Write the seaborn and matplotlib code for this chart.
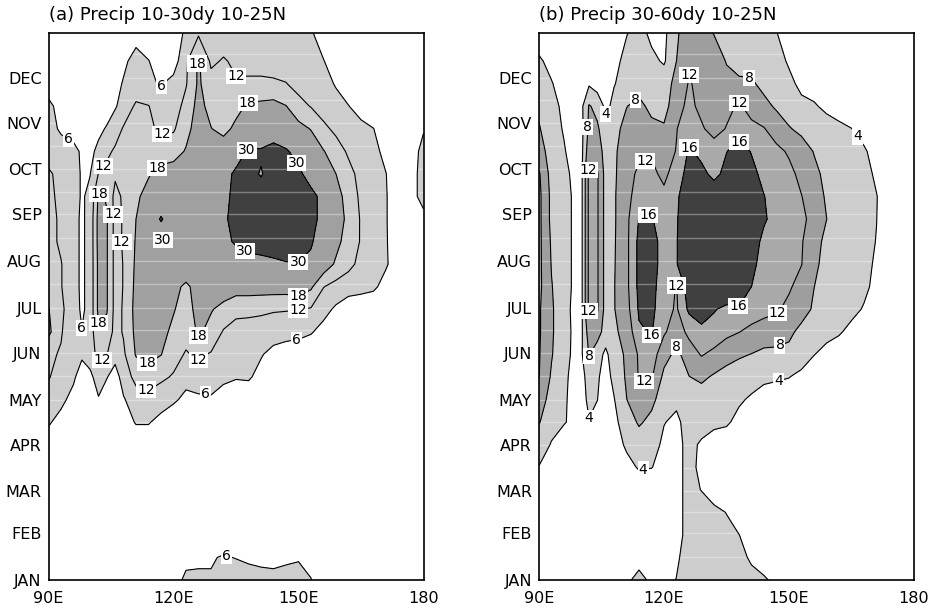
import numpy as np
import matplotlib
matplotlib.use("Agg")
import matplotlib.pyplot as plt
import seaborn as sns

# ---------------- data ----------------
lons = [90, 93, 96, 98, 100, 102, 104, 106, 108, 111, 114, 117, 120, 123, 126, 129,
        132, 135, 138, 141, 144, 147, 150, 153, 156, 159, 162, 165, 168, 171, 174, 177, 180]
days = [1, 16, 31, 46, 61, 76, 91, 106, 121, 136, 151, 166, 181, 196, 211, 226,
        241, 256, 271, 286, 301, 316, 331, 346, 365]

month_days = [1, 32, 60, 91, 121, 152, 182, 213, 244, 274, 305, 335]
month_labels = ["JAN", "FEB", "MAR", "APR", "MAY", "JUN", "JUL", "AUG", "SEP", "OCT", "NOV", "DEC"]
lon_ticks = [90, 120, 150, 180]
lon_labels = ["90E", "120E", "150E", "180"]

# (a) 10-30 day precip variance, rows = days (bottom -> top), cols = lons
precip_a = [
    [2,2,2,2,2,2,2,2,2,2,2,2,3,7.5,7,6.5,9,9,8.5,8,7.5,8,9,6.2,2.5,2,2,2,2,2,2,2,2],            # 1
    [2,2,2,2,2,2,2,2,2,2,2,2,2,4,5,5.5,6.5,5.8,5,4.5,4.5,5,5.3,4,2,2,2,2,2,2,2,2,2],           # 16
    [2,2,2,2,2,2,2,2,2,2,2,2,2,2,2,2,2,2,2,2,2,2,2,2,2,2,2,2,2,2,2,2,2],                       # 31
    [2,2,2,2,2,2,2,2,2,2,2,2,2,2,2,2,2,2,2,2,2,2,2,2,2,2,2,2,2,2,2,2,2],                       # 46
    [2,2,2,2,2,2,2,2,2,2,2,2,2,2,2,2,2,2,2,2,2,2,2,2,2,2,2,2,2,2,2,2,2],                       # 61
    [2,2,2,2,2,2,2,2,2,2,2,2,2,2,2,2,2,2,2,2,2,2,2,2,2,2,2,2,2,2,2,2,2],                       # 76
    [3,2.5,2,2,2,2,2,2,2,2,2,2,2,2,2,2,2,2,2,2,2,2,2,2,2,2,2,2,2,2,2,2,2],                     # 91
    [6.7,4,2,2,2,2,2,2,3,6.5,6.5,4,2,2,2,2,2,2,2,2,2,2,2,2,2,2,2,2,2,2,2,2,2],                 # 106
    [9,7.5,4,2.5,3,5.5,3,3.5,5.5,9,10,9,7,4.5,5,5.5,4,2,2,2,2,2,2,2,2,2,2,2,2,2,2,2,2],        # 121
    [12.5,9,7,3,4.5,9,6.3,3.5,8.5,14,15,13,11.5,8,9,8,7,6.5,6.8,4,2,2,2,2,2,2,2,2,2,2,2,2,2],  # 136
    [13,11.5,8,7,9,14,12.2,8,11,18.5,20,18.2,14,11.5,13,11.5,9,8,7.5,6.5,4,2,2,2,2,2,2,2,2,2,2,2,2],   # 151
    [19.5,12.5,8,6.2,9,17,16,10,12.5,19.5,21,20,16.5,14,19,16,11.5,10,9.5,9.5,9,9,8,6.5,4,2,2,2,2,2,2,2,2],  # 166
    [18.3,13,9,5,8,19.5,18.5,10,12.5,20,22,21,18.5,15,20.5,18.5,16,13.5,13.5,13,12.5,12.3,12.2,11.5,8,5,2,2,2,2,2,2,2],  # 181
    [14.5,12.3,8,5,8,19.5,18.5,10,12.2,19.5,22,23,21,16,22,22,22,21,21,21,21,21,22,19,12.2,10,9,8,7,4,2,2,2],  # 196
    [14.5,12.3,8,5,8,19.5,18.5,10,12.2,19,23,24,25,26,27,27,28,26,27,28,28.5,29.5,29.7,28,22,17,13.5,10.5,8.5,6.6,3,2,2],  # 211
    [14,11,8,5,8,20,18.5,10,12.6,18.5,23,22,23,25,26,27,28,31,33,33,34,34,33,31,25,20,15,11.6,9,6.4,3,2.5,3],  # 226
    [14,11,8,5,8,20,18.5,10,12.5,18,23,31,24,25,26,27,29,32,34,34,35,35,34,33,27,22,16,11.5,9,6.3,3,2.5,4],    # 241
    [13.5,10.5,8,5.5,7,19,17.5,10,13,17,20,22,23,24,25,26,28,32,33,33,34,34,32,32,28,21,15,11,8.5,6.3,3,3.5,8.5],  # 256
    [13,10,8,5.5,5.9,12.2,14,13,14,15,17.5,20,21,23,24,25,27,31.5,32,29.5,33,33,31.5,27,22,18,14,10,8,6.1,3,3.5,8.5],  # 271
    [9,9,8,5,4,8,10.5,13,14,15,16,15,15.5,18.5,23,21,22,26,31,31,33,31,27,22,18.3,15,11,9,7.5,4.5,2,3,8],       # 286
    [8.5,5,3,4,3,4,6.8,9,12.6,14,13,11,11.3,16,21,18.2,16,19.5,22,23,25,23,20,17.7,13.5,10.5,9,8,6.1,3,2,2,5.5],  # 301
    [8,3,2,2,2,2,2,5.5,8,13,12.2,9,9,14,20,16,15,16,19,19.5,20,18.2,14,11.7,9,8,6.2,3,2,2,2,2,2],             # 316
    [2,2,2,2,2,2,2,3,6.8,8,7,5.5,8,11.5,19,14,14,12.5,13,13,13,12.2,10,9,8,5.5,2,2,2,2,2,2,2],                # 331
    [2,2,2,2,2,2,2,2,4,9.6,6.2,3,3,11,19,11,12.5,11,10,10,9,9,9,8,6.3,2,2,2,2,2,2,2,2],                       # 346
    [2,2,2,2,2,2,2,2,2,2,2,2,2,7.3,11,9,9,9,8,8,8,8,7,6.8,2,2,2,2,2,2,2,2,2],                                 # 365
]

# (b) 30-60 day precip variance
precip_b = [
    [2,2,2,2,2,2,2,2,2,3,5.6,3,2.5,4.1,6,7,7,6.5,6,5,4.5,3,2,2,2,2,2,2,2,2,2,2,2],             # 1
    [2,2,2,2,2,2,2,2,2,2,2,2,2.5,3.5,5.5,6,6.5,6,5,3.5,2,2,2,2,2,2,2,2,2,2,2,2,2],             # 16
    [2,2,2,2,2,2,2,2,2,2,2,2,2,3,5,6,6,5,4.05,2.5,2,2,2,2,2,2,2,2,2,2,2,2,2],                  # 31
    [2,2,2,2,2,2,2,2,2,2,2,2,2,3,5,5.5,5,3.9,2,2,2,2,2,2,2,2,2,2,2,2,2,2,2],                   # 46
    [2,2,2,2,2,2,2,2,2,2,2,2,2,3,5,3.9,2,2,2,2,2,2,2,2,2,2,2,2,2,2,2,2,2],                     # 61
    [3.9,2.5,2,2,2,2,2,2,2,3,4.3,4.1,3,3,5,3.2,2,2,2,2,2,2,2,2,2,2,2,2,2,2,2,2,2],             # 76
    [5.5,3.8,2.5,2.5,2.5,2.5,2.5,2.5,2.5,4.5,6,5,3.5,3,5,3.5,2,2,2,2,2,2,2,2,2,2,2,2,2,2,2,2,2],  # 91
    [8.3,5,4.2,3.5,3,3.9,3,2,3,6,8.5,7,4.1,3.5,5,5.5,5,4.5,3,2,2,2,2,2,2,2,2,2,2,2,2,2,2],    # 106
    [10,6.5,4.3,3.5,3,4.5,4.05,2.5,3.8,7.9,11,9,6,4.5,5.5,6,5.5,5,4.5,3.5,2,2,2,2,2,2,2,2,2,2,2,2,2],  # 121
    [12.1,7.5,4.5,3.5,3,5,4.5,2.5,5,8.5,12.3,12.5,7,6,7.9,8.8,7.5,6.5,6,5.5,5,4.5,4.1,3,2,2,2,2,2,2,2,2,2],  # 136
    [12.3,8.3,5,3.7,3,8.2,6,3,6.5,8.5,12.5,14,9.5,7,10,12.3,11,9.5,8.5,7.9,7,7,7,6,4.1,3,2,2,2,2,2,2,2],    # 151
    [12.5,8.5,5.5,3.7,2.5,10,9.5,6.5,7.5,9,15.5,16.3,12.5,10,13,15,14.5,13,12.1,11,10.5,10,8.8,7,6,5,4.4,3,2,2,2,2,2],  # 166
    [12.5,8.5,5.5,3.5,2,13,12.5,6.5,7.8,10.5,16.5,17,13.5,11.5,16.8,18,16.3,15,15.5,14,13,12.5,11,9.5,7.5,6,5.5,5,3.7,2,2,2,2],  # 181
    [13,8.2,5.5,3.8,2,13,12.5,6.5,7.8,11,17,17.2,14,11.8,18.5,20,20,20,19,16,13.5,13,12.5,10.5,8.05,6.5,6,5.5,4.8,3,2,2,2],  # 196
    [13,7.8,5.5,3.8,2,13,12.5,6.5,7.7,11,17,17.5,14.5,15.8,19,20.5,20.5,20.5,19.5,17,14.5,13.5,13,12.1,9,6.5,6,5.5,5,3.5,2,2,2],  # 211
    [13,7.5,5.5,3.8,2,13,12.5,6.5,7.6,11,17,17.5,14.5,15.8,19,20.5,20.5,20.5,20,18,15,14,13.5,12.3,9.5,7,6,5.5,5,3.9,2,2,2],  # 226
    [13,7,5.5,3.8,2,13,12.5,6.5,7.5,11,16.2,16.5,13,15.7,18.5,20,20,20,20,19,16.5,14.5,14,13,10.5,8.05,6.5,6,5,4.05,2,2,2],  # 241
    [13,7,5.5,3.8,2,13,12.5,6.5,7.5,11,13.5,14,13,15.5,18,19,18.5,19,19,18,16.1,14.5,13.5,12.1,10,7.5,6.5,6,5,4.1,2.5,2,2],  # 256
    [12.5,6.5,5,3.5,2,13,12.5,6.5,7.5,10,13,13,11,14,17.5,17,15,17,18,17,15,14,13,11,9,7,6,5.5,5,3.5,2,2,2],  # 271
    [9,7,4.5,2,2,10.5,10,6.5,7.5,9.5,11,11.5,11,12.1,16.5,15,14,15.9,17.5,15.8,14,13,11.5,10,7.8,6.5,6,5.5,4.5,2.5,2,2,2],  # 286
    [8.2,6.5,3.5,2,2,9,8.5,6,7,9,10,9,8.5,11.9,13.5,12.5,10.5,12.2,14,13,12.2,10,8.3,7,6.5,6,5,4.05,2.5,2,2,2,2],  # 301
    [7.5,5.5,3,2,2.5,8.3,7,3,5,7.9,9,7,6.5,10.5,13,11,10,11,12.5,10.5,9,7.5,6,5,4.5,3,2,2,2,2,2,2,2],       # 316
    [6,4.2,2.5,2,2,3.5,2,2,3.8,5.5,6.5,6,6.5,9,12.3,11,10,9,8.5,8.5,7,6,5,3,2,2,2,2,2,2,2,2,2],              # 331
    [4.5,3,2,2,2,2,2,2,3,5,6,5,3.5,8,11.5,11,10,7.8,7,6.5,6,5.5,3.5,2,2,2,2,2,2,2,2,2,2],                    # 346
    [2,2,2,2,2,2,2,2,2,3.8,5.5,3,3,7.5,10,9.5,7.8,6.5,6,5.5,5,4.1,2,2,2,2,2,2,2,2,2,2,2],                    # 365
]

levels_a = [6, 12, 18, 30]
fill_levels_a = [6, 18, 30, 1000]
colors_a = ["#cdcdcd", "#a0a0a0", "#404040"]
levels_b = [4, 8, 12, 16]
fill_levels_b = [4, 8, 12, 16, 1000]
colors_b = ["#cdcdcd", "#9e9e9e", "#a9a9a9", "#404040"]

titles = ["(a) Precip 10-30dy 10-25N", "(b) Precip 30-60dy 10-25N"]

# label anchor points (lon, day) for each contour level (snapped onto the line)
labels_a = {
    6: [(117.5, 328.5), (97.6, 306.5), (97.3, 165.7), (127.6, 121.9), (150.1, 151.8), (132.8, 18.3)],
    12: [(131.0, 327.0), (117.5, 293.3), (102.4, 277.9), (104.0, 244.0), (108.0, 226.0),
         (149.9, 178.3), (102.4, 148.5), (125.2, 140.5), (112.7, 122.6)],
    18: [(124.7, 344.4), (137.6, 318.5), (115.1, 278.0), (102.4, 258.7), (149.9, 188.3),
         (102.8, 168.4), (125.2, 157.1), (112.7, 140.5)],
    30: [(137.6, 286.6), (147.5, 274.7), (137.6, 222.2), (149.9, 208.2)],
}
# labels placed as they stand (next to a tiny closed contour)
free_labels_a = [(30, 117.5, 226.8)]

labels_b = {
    4: [(105.4, 307.9), (165.1, 293.3), (147.8, 130.5), (102.7, 103.9), (115.0, 74.1)],
    8: [(102.7, 302.0), (112.6, 321.8), (140.2, 331.1), (102.7, 148.5), (122.6, 159.1), (147.8, 157.1)],
    12: [(125.5, 338.4), (137.8, 319.8), (115.0, 283.3), (102.7, 273.4), (122.6, 203.6),
         (147.4, 178.3), (102.7, 180.3), (115.4, 130.5)],
    16: [(125.0, 300.0), (137.8, 298.6), (115.4, 253.4), (137.8, 181.6), (115.4, 155.1)],
}
free_labels_b = []


def snap_to_level(ax, cs, level, x, y):
    """Nearest point (data coords) on the drawn contour of `level` to (x, y)."""
    idx = list(cs.levels).index(level)
    segs = [s for s in cs.allsegs[idx] if len(s) > 1]
    if not segs:
        return x, y
    p = ax.transData.transform((x, y))
    best, best_d = (x, y), np.inf
    for s in segs:
        d_pts = ax.transData.transform(s)
        a, b = d_pts[:-1], d_pts[1:]
        ab = b - a
        L2 = (ab ** 2).sum(1)
        L2[L2 == 0] = 1e-12
        t = np.clip(((p - a) * ab).sum(1) / L2, 0, 1)
        proj = a + ab * t[:, None]
        d = ((proj - p) ** 2).sum(1)
        j = d.argmin()
        if d[j] < best_d:
            best_d = d[j]
            best = ax.transData.inverted().transform(proj[j])
    return best


def put_label(ax, x, y, lev):
    ax.text(x, y, f"{lev:d}", fontsize=10, color="black", ha="center", va="center",
            zorder=5, clip_on=True,
            bbox=dict(boxstyle="square,pad=0.08", fc="white", ec="none"))


# ---------------- drawing ----------------
sns.set_theme(style="white")
plt.rcParams["font.family"] = ["DejaVu Sans"]

fig = plt.figure(figsize=(9.38, 6.10), dpi=100, facecolor="white")
W, H = 938.0, 610.0
ax_a = fig.add_axes([48.5 / W, 30 / H, 375 / W, 547.5 / H])
ax_b = fig.add_axes([539 / W, 30 / H, 375 / W, 547.5 / H])

# half-month stripes
mid_days = [(a + b) / 2 for a, b in zip(month_days, month_days[1:] + [366])]
stripe_days = sorted(month_days[1:] + mid_days)

X, Y = np.meshgrid(np.array(lons, float), np.array(days, float))

for ax, data, lv, flv, fcols, labs, free, title, x0 in [
    (ax_a, precip_a, levels_a, fill_levels_a, colors_a, labels_a, free_labels_a, titles[0], 48.5),
    (ax_b, precip_b, levels_b, fill_levels_b, colors_b, labels_b, free_labels_b, titles[1], 539),
]:
    Z = np.array(data, float)
    ax.set_xlim(90, 180)
    ax.set_ylim(1, 365)
    ax.contourf(X, Y, Z, levels=flv, colors=fcols, zorder=1)
    ax.hlines(stripe_days, 90, 180, colors="white", alpha=0.35, linewidth=1.0, zorder=1.5)
    cs = ax.contour(X, Y, Z, levels=lv, colors="black", linewidths=0.8, zorder=2)
    ax.set_xlim(90, 180)
    ax.set_ylim(1, 365)
    for lev, pts in labs.items():
        for (lx, ly) in pts:
            sx, sy = snap_to_level(ax, cs, lev, lx, ly)
            put_label(ax, sx, sy, lev)
    for (lev, lx, ly) in free:
        put_label(ax, lx, ly, lev)
    ax.set_xticks(lon_ticks)
    ax.set_xticklabels(lon_labels)
    ax.set_yticks(month_days)
    ax.set_yticklabels(month_labels)
    ax.tick_params(axis="both", length=0, labelsize=11.5, colors="black")
    ax.tick_params(axis="y", pad=5)
    ax.tick_params(axis="x", pad=8)
    for sp in ax.spines.values():
        sp.set_visible(True)
        sp.set_color("black")
        sp.set_linewidth(1.2)
        sp.set_zorder(6)
    ax.set_facecolor("white")
    fig.text(x0 / W, 1 - 15 / H, title, ha="left", va="center", fontsize=13, color="black")

fig.savefig("out.png", dpi=100, facecolor="white")
